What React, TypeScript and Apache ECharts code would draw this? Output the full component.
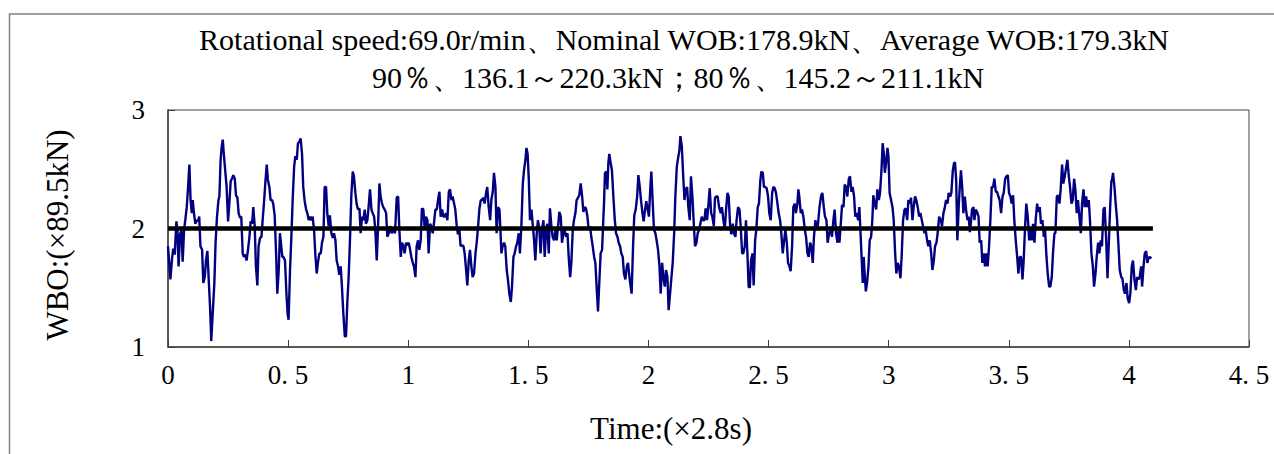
import React, { useEffect, useRef } from "react";
import * as echarts from "echarts";

const titleLine1 = "Rotational speed:69.0r/min、Nominal WOB:178.9kN、Average WOB:179.3kN";
const titleLine2 = "90％、136.1～220.3kN；80％、145.2～211.1kN";
const xAxisTitle = "Time:(×2.8s)";
const yAxisTitle = "WBO:(×89.5kN)";
const xTickLabels = ["0", "0. 5", "1", "1. 5", "2", "2. 5", "3", "3. 5", "4", "4. 5"];
const yTickLabels = ["1", "2", "3"];
const nominalWOB = 2;
const nominalSpan = [0, 4.1];

// [time (×2.8s), WOB (×89.5kN)]
const wobSamples: [number, number][] = [
  [0,1.85],[0.010,1.57],[0.017,1.75],[0.022,1.83],[0.028,1.78],[0.035,2.06],[0.039,1.99],[0.044,1.68],[0.050,1.95],[0.056,1.99],[0.061,1.72],[0.067,1.99],[0.072,2.07],[0.078,2.18],[0.083,2.33],[0.089,2.54],[0.094,2.24],[0.099,2.13],[0.103,2.24],[0.108,2.13],[0.114,2.04],[0.119,2.07],[0.125,2.06],[0.130,2.10],[0.135,1.85],[0.142,1.82],[0.147,1.54],[0.153,1.59],[0.158,1.73],[0.164,1.81],[0.169,1.59],[0.175,1.34],[0.180,1.05],[0.186,1.28],[0.193,1.54],[0.198,1.88],[0.204,2.10],[0.210,2.24],[0.214,2.27],[0.219,2.58],[0.223,2.68],[0.228,2.75],[0.233,2.61],[0.239,2.47],[0.244,2.35],[0.250,2.06],[0.255,2.20],[0.261,2.40],[0.266,2.42],[0.272,2.45],[0.278,2.42],[0.283,2.28],[0.289,2.26],[0.294,2.13],[0.300,2.09],[0.305,2.10],[0.311,1.79],[0.316,1.76],[0.322,1.78],[0.327,1.73],[0.333,1.82],[0.339,1.93],[0.344,2.06],[0.350,2.04],[0.355,2.18],[0.361,2.02],[0.366,1.68],[0.372,1.52],[0.377,1.85],[0.383,1.92],[0.389,1.93],[0.394,2.07],[0.400,2.23],[0.405,2.38],[0.411,2.54],[0.416,2.41],[0.422,2.35],[0.427,2.24],[0.433,2.24],[0.438,2.21],[0.444,2.11],[0.450,1.79],[0.455,1.45],[0.461,1.65],[0.466,1.96],
  [0.476,1.76],[0.481,1.76],[0.487,1.73],[0.493,1.45],[0.498,1.28],[0.502,1.23],[0.508,1.65],[0.513,1.90],[0.519,2.24],[0.525,2.52],[0.530,2.61],[0.536,2.58],[0.541,2.72],[0.547,2.73],[0.552,2.76],[0.558,2.63],[0.563,2.35],[0.569,2.23],[0.575,2.16],[0.580,2.13],[0.586,2.07],[0.591,2.10],[0.597,2.07],[0.602,2.10],[0.608,1.99],[0.613,1.79],[0.619,1.62],[0.624,1.71],[0.630,1.79],[0.636,1.79],[0.641,1.88],[0.647,1.93],[0.652,2.35],[0.658,2.35],[0.663,2.13],[0.669,2.02],[0.674,2.11],[0.680,1.96],[0.686,1.92],[0.691,1.96],[0.697,1.90],[0.702,1.73],[0.708,1.68],[0.713,1.61],[0.719,1.68],[0.724,1.51],[0.730,1.28],[0.736,1.09],[0.741,1.09],[0.747,1.40],[0.752,1.59],[0.758,1.93],[0.763,2.27],[0.769,2.48],[0.774,2.44],[0.780,2.30],[0.785,2.21],[0.791,2.16],[0.797,2.17],[0.802,1.96],[0.808,2.10],[0.813,2.07],[0.819,2.16],[0.824,2.04],[0.830,2.07],[0.835,2.18],[0.841,2.33],[0.847,2.16],[0.852,2.13],[0.858,2.10],[0.863,1.99],[0.869,1.73],[0.874,1.99],[0.880,2.38],[0.885,2.27],[0.891,2.21],[0.896,2.18],[0.902,2.16],[0.908,2.13],[0.913,1.93],[0.919,1.96],[0.924,2.02],
  [0.931,1.96],[0.938,1.99],[0.945,1.96],[0.952,2.26],[0.958,2.27],[0.963,1.99],[0.969,1.76],[0.974,1.88],[0.980,1.85],[0.985,1.79],[0.991,1.88],[0.996,1.86],[1.002,1.88],[1.008,1.82],[1.013,1.76],[1.019,1.71],[1.024,1.68],[1.030,1.59],[1.035,1.85],[1.041,1.90],[1.046,1.82],[1.052,1.90],[1.057,2.17],[1.063,2.16],[1.069,1.99],[1.074,2.10],[1.080,2.07],[1.085,1.79],[1.091,2.04],[1.096,2.02],[1.102,1.96],[1.107,2.04],[1.113,2.16],[1.119,2.16],[1.124,2.24],[1.130,2.31],[1.135,2.10],[1.141,2.16],[1.146,2.10],[1.152,2.10],[1.157,2.13],[1.163,2.07],[1.169,2.31],[1.174,2.33],[1.180,2.24],[1.185,2.27],[1.191,2.21],[1.196,2.16],[1.202,2.02],[1.207,1.95],[1.213,1.99],[1.218,1.85],[1.224,1.86],[1.230,1.85],[1.235,1.79],[1.241,1.65],[1.246,1.52],[1.252,1.73],[1.257,1.82],[1.263,1.68],[1.268,1.59],[1.274,1.62],[1.280,1.79],[1.285,1.88],[1.291,2.02],[1.296,2.16],[1.302,2.24],[1.307,2.24],[1.313,2.26],[1.318,2.21],[1.324,2.30],[1.329,2.35],[1.335,2.18],[1.341,2.07],[1.346,2.24],[1.352,2.31],[1.357,2.47],[1.363,2.35],[1.368,1.96],[1.374,2.18],[1.380,2.16],
  [1.388,1.79],[1.393,1.85],[1.399,1.88],[1.404,1.85],[1.410,1.65],[1.415,1.57],[1.421,1.45],[1.427,1.38],[1.432,1.51],[1.438,1.76],[1.443,1.79],[1.449,1.85],[1.454,1.88],[1.460,1.96],[1.465,1.79],[1.471,2.02],[1.477,2.38],[1.482,2.49],[1.488,2.58],[1.492,2.68],[1.497,2.63],[1.502,2.41],[1.507,2.07],[1.513,2.16],[1.518,2.04],[1.524,1.90],[1.529,1.73],[1.535,1.96],[1.540,2.07],[1.546,1.99],[1.551,1.79],[1.557,1.99],[1.563,2.07],[1.568,1.76],[1.574,1.99],[1.579,2.04],[1.585,1.79],[1.590,2.17],[1.596,2.02],[1.601,1.93],[1.607,1.90],[1.613,1.99],[1.618,1.90],[1.624,2.02],[1.629,2.14],[1.635,2.10],[1.640,1.88],[1.646,1.96],[1.651,1.99],[1.657,1.93],[1.663,1.96],[1.668,1.76],[1.674,1.59],[1.679,1.71],[1.685,1.99],[1.690,2.07],[1.696,2.13],[1.701,2.24],[1.707,2.26],[1.712,2.28],[1.718,2.38],[1.724,2.27],[1.729,2.14],[1.735,2.18],[1.740,2.17],[1.746,2.10],[1.751,1.99],[1.757,2.02],[1.762,1.93],[1.768,1.85],[1.774,1.76],[1.779,1.71],[1.785,1.48],[1.790,1.30],[1.796,1.57],[1.801,1.79],[1.807,1.82],[1.812,2.07],
  [1.815,2.21],[1.819,2.47],[1.825,2.48],[1.829,2.33],[1.833,2.55],[1.837,2.63],[1.843,2.55],[1.848,2.49],[1.854,2.27],[1.860,2.07],[1.865,1.96],[1.871,1.93],[1.876,1.88],[1.882,1.85],[1.887,1.79],[1.893,1.76],[1.898,1.62],[1.904,1.57],[1.910,1.68],[1.915,1.71],[1.921,1.59],[1.926,1.51],[1.930,1.45],[1.936,1.85],[1.941,2.11],[1.947,2.16],[1.953,2.27],[1.958,2.45],[1.964,2.35],[1.969,2.24],[1.975,2.13],[1.980,2.06],[1.986,2.16],[1.991,2.23],[1.997,2.16],[2.002,2.10],[2.008,2.35],[2.012,2.48],[2.018,2.21],[2.023,1.99],[2.029,1.96],[2.034,1.90],[2.040,1.82],[2.046,1.68],[2.051,1.45],[2.057,1.71],[2.062,1.59],[2.068,1.51],[2.073,1.65],[2.079,1.59],[2.084,1.31],[2.090,1.45],[2.095,1.57],[2.101,1.71],[2.107,1.96],[2.112,2.27],[2.118,2.52],[2.123,2.59],[2.129,2.66],[2.133,2.78],[2.139,2.69],[2.144,2.47],[2.150,2.24],[2.155,2.33],[2.161,2.35],[2.166,2.18],[2.172,2.07],[2.177,2.44],[2.183,2.27],[2.188,2.07],[2.194,1.85],[2.200,1.88],[2.205,1.96],[2.211,1.99],[2.216,2.04],[2.222,2.10],[2.227,2.07],[2.233,2.07],[2.238,2.17],[2.244,2.07],[2.250,2.21],[2.255,2.34],[2.261,2.13],[2.266,2.10],[2.272,2.02],[2.277,2.26],[2.283,2.27],[2.288,2.27],[2.294,2.18],
  [2.301,2.13],[2.306,2.18],[2.312,2.07],[2.318,1.99],[2.323,2.16],[2.329,2.30],[2.334,2.27],[2.340,2.02],[2.345,1.95],[2.351,2.04],[2.356,1.96],[2.362,1.93],[2.367,2.07],[2.373,2.18],[2.379,2.16],[2.384,2.02],[2.390,1.79],[2.395,1.79],[2.401,1.85],[2.406,2.07],[2.412,1.79],[2.417,1.51],[2.422,1.50],[2.427,1.73],[2.433,1.79],[2.438,1.52],[2.444,1.90],[2.449,1.99],[2.455,2.18],[2.460,2.21],[2.466,2.41],[2.470,2.48],[2.476,2.47],[2.481,2.35],[2.487,2.35],[2.492,2.34],[2.498,2.27],[2.503,2.13],[2.509,2.07],[2.515,2.30],[2.520,2.35],[2.526,2.34],[2.531,2.30],[2.537,2.21],[2.542,2.13],[2.548,2.07],[2.553,1.96],[2.559,1.79],[2.565,1.90],[2.570,1.99],[2.576,1.88],[2.581,1.71],[2.587,1.68],[2.592,1.64],[2.598,1.85],[2.603,2.18],[2.609,2.21],[2.614,2.13],[2.620,2.21],[2.624,2.33],[2.628,2.27],[2.634,2.13],[2.639,2.16],[2.645,2.10],[2.651,1.99],[2.656,1.93],[2.662,1.79],[2.667,1.76],[2.673,1.88],[2.678,1.85],[2.684,1.71],[2.689,1.93],[2.695,2.07],[2.701,1.99],[2.706,2.04],[2.712,2.18],[2.719,2.28],[2.724,2.30],[2.730,2.18],[2.735,2.10],[2.741,2.07],[2.746,1.88],[2.752,1.96],
  [2.759,1.99],[2.764,1.93],[2.770,2.07],[2.775,2.16],[2.781,1.96],[2.787,1.88],[2.792,1.99],[2.795,1.88],[2.800,2.02],[2.806,2.20],[2.812,2.18],[2.817,2.37],[2.823,2.35],[2.828,2.27],[2.834,2.42],[2.839,2.44],[2.845,2.31],[2.850,2.35],[2.856,2.27],[2.861,2.10],[2.867,2.13],[2.873,2.07],[2.878,2.18],[2.882,2.00],[2.888,1.73],[2.892,1.54],[2.896,1.76],[2.900,1.62],[2.905,1.47],[2.910,1.54],[2.916,1.68],[2.921,1.90],[2.927,1.93],[2.932,2.07],[2.936,2.28],[2.942,2.21],[2.948,2.16],[2.953,2.33],[2.959,2.24],[2.964,2.30],[2.970,2.49],[2.975,2.72],[2.980,2.63],[2.984,2.47],[2.989,2.55],[2.995,2.68],[2.999,2.61],[3.004,2.30],[3.010,2.24],[3.016,2.18],[3.021,2.07],[3.027,1.79],[3.032,1.62],[3.038,1.71],[3.043,1.68],[3.049,1.58],[3.054,1.76],[3.060,2.07],[3.066,2.16],[3.071,2.17],[3.077,2.07],[3.082,2.24],[3.088,2.21],[3.093,2.26],[3.099,2.07],[3.104,2.18],[3.110,2.27],[3.115,2.24],[3.121,2.18],[3.127,2.10],[3.132,2.13],[3.138,2.07],[3.143,2.02],[3.149,1.96],[3.154,1.99],[3.160,1.90],[3.165,1.85],[3.171,1.90],[3.177,1.79],[3.182,1.65],[3.188,1.73],[3.193,1.85],[3.199,1.88],[3.204,1.96],[3.210,2.10],
  [3.217,2.07],[3.222,2.02],[3.228,2.13],[3.233,2.17],[3.239,2.24],[3.245,2.21],[3.250,2.30],[3.256,2.27],[3.261,2.30],[3.267,2.49],[3.272,2.55],[3.276,2.56],[3.281,2.41],[3.286,1.90],[3.292,2.21],[3.297,2.38],[3.301,2.49],[3.306,2.35],[3.311,2.13],[3.317,2.27],[3.322,2.16],[3.328,2.07],[3.333,2.10],[3.338,1.97],[3.342,2.04],[3.347,2.16],[3.353,2.18],[3.357,2.07],[3.362,2.16],[3.368,2.14],[3.374,2.10],[3.379,1.88],[3.385,1.90],[3.390,1.71],[3.396,1.79],[3.401,1.68],[3.407,1.79],[3.412,1.68],[3.418,1.85],[3.424,2.10],[3.429,2.35],[3.435,2.35],[3.440,2.42],[3.446,2.31],[3.451,2.31],[3.457,2.27],[3.462,2.24],[3.468,2.13],[3.474,2.27],[3.479,2.30],[3.485,2.42],[3.490,2.44],[3.496,2.45],[3.501,2.30],[3.507,2.27],[3.512,2.21],[3.518,2.28],[3.523,2.07],[3.529,1.90],[3.535,1.76],[3.540,1.62],[3.546,1.76],[3.551,1.76],[3.557,1.57],[3.562,1.73],[3.568,2.02],[3.573,2.21],[3.579,2.10],[3.585,1.90],[3.590,1.99],[3.596,1.90],[3.601,2.04],[3.607,1.88],[3.612,2.07],[3.618,2.21],[3.623,2.14],[3.629,2.18],[3.634,2.04],[3.640,2.07],[3.646,1.93],[3.651,1.99],[3.657,1.76],[3.662,1.62],[3.668,1.51],
  [3.673,1.51],[3.679,1.59],[3.684,1.79],[3.690,1.96],[3.694,1.96],[3.700,2.27],[3.705,2.28],[3.711,2.21],[3.716,2.33],[3.722,2.54],[3.727,2.38],[3.733,2.44],[3.739,2.52],[3.744,2.58],[3.750,2.44],[3.755,2.35],[3.761,2.21],[3.766,2.24],[3.772,2.42],[3.777,2.33],[3.783,2.13],[3.788,2.24],[3.794,2.10],[3.800,1.96],[3.805,2.21],[3.811,2.33],[3.816,2.18],[3.822,2.27],[3.827,2.18],[3.833,2.24],[3.838,2.07],[3.844,1.79],[3.850,1.68],[3.855,1.51],[3.861,1.62],[3.866,1.76],[3.872,1.88],[3.877,1.79],[3.883,1.90],[3.888,1.85],[3.894,2.16],[3.899,2.18],[3.905,1.93],[3.911,1.58],[3.916,1.85],[3.922,2.18],[3.927,2.40],[3.930,2.41],[3.934,2.47],[3.940,2.35],[3.945,2.21],[3.951,2.07],[3.956,1.88],[3.962,1.65],[3.968,1.59],[3.973,1.58],[3.979,1.48],[3.984,1.45],[3.990,1.54],[3.995,1.41],[4.001,1.37],[4.006,1.45],[4.012,1.68],[4.017,1.73],[4.023,1.57],[4.029,1.48],[4.034,1.59],[4.040,1.57],[4.045,1.59],[4.051,1.68],[4.055,1.51],[4.061,1.68],[4.066,1.79],[4.072,1.81],[4.077,1.71],[4.083,1.76],[4.088,1.75],[4.094,1.76],
];

const FONT = "'Liberation Serif', 'Times New Roman', serif";

export default function App() {
  const ref = useRef<HTMLDivElement>(null);
  useEffect(() => {
    if (!ref.current) return;
    const chart = echarts.init(ref.current, undefined, { renderer: "svg" });
    chart.setOption({
      animation: false,
      backgroundColor: "#ffffff",
      grid: {
        left: 168, top: 110, width: 1081, height: 237,
        show: true, borderColor: "#404040", borderWidth: 1, backgroundColor: "transparent",
      },
      xAxis: {
        type: "value", min: 0, max: 4.5, interval: 0.5,
        axisLine: { show: true, lineStyle: { color: "#404040", width: 1.5 } },
        axisTick: { show: true, inside: true, length: 7, lineStyle: { color: "#404040" } },
        splitLine: { show: false },
        axisLabel: {
          margin: 14, color: "#000", fontFamily: FONT, fontSize: 27,
          formatter: (v: number) => xTickLabels[Math.round(v / 0.5)] ?? "",
        },
      },
      yAxis: {
        type: "value", min: 1, max: 3, interval: 1,
        axisLine: { show: true, lineStyle: { color: "#404040", width: 1.5 } },
        axisTick: { show: true, inside: true, length: 7, lineStyle: { color: "#404040" } },
        splitLine: { show: false },
        axisLabel: {
          margin: 23, color: "#000", fontFamily: FONT, fontSize: 27,
          formatter: (v: number) => yTickLabels[Math.round(v - 1)] ?? "",
        },
      },
      graphic: [
        { type: "rect", shape: { x: 9.5, y: 14, width: 1400, height: 600 }, style: { fill: "none", stroke: "#808080", lineWidth: 1.5 }, silent: true },
        { type: "text", x: 684, y: 39, style: { text: titleLine1, fontFamily: FONT, fontSize: 30, fill: "#000", align: "center", verticalAlign: "middle" } },
        { type: "text", x: 678, y: 77, style: { text: titleLine2, fontFamily: FONT, fontSize: 30, fill: "#000", align: "center", verticalAlign: "middle" } },
        { type: "text", x: 671, y: 428, style: { text: xAxisTitle, fontFamily: FONT, fontSize: 31, fill: "#000", align: "center", verticalAlign: "middle" } },
        { type: "text", x: 57, y: 235, rotation: Math.PI / 2, style: { text: yAxisTitle, fontFamily: FONT, fontSize: 31, fill: "#000", align: "center", verticalAlign: "middle" } },
      ],
      series: [
        {
          type: "line", data: wobSamples, showSymbol: false, symbol: "none",
          lineStyle: { color: "#000080", width: 2.4 }, z: 2,
        },
        {
          type: "line", data: nominalSpan.map((t) => [t, nominalWOB]), showSymbol: false, symbol: "none",
          lineStyle: { color: "#000000", width: 4.5 }, z: 3,
        },
      ],
    });
    return () => chart.dispose();
  }, []);
  return <div ref={ref} style={{ position: "fixed", left: 0, top: 0, width: 1274, height: 454 }} />;
}
